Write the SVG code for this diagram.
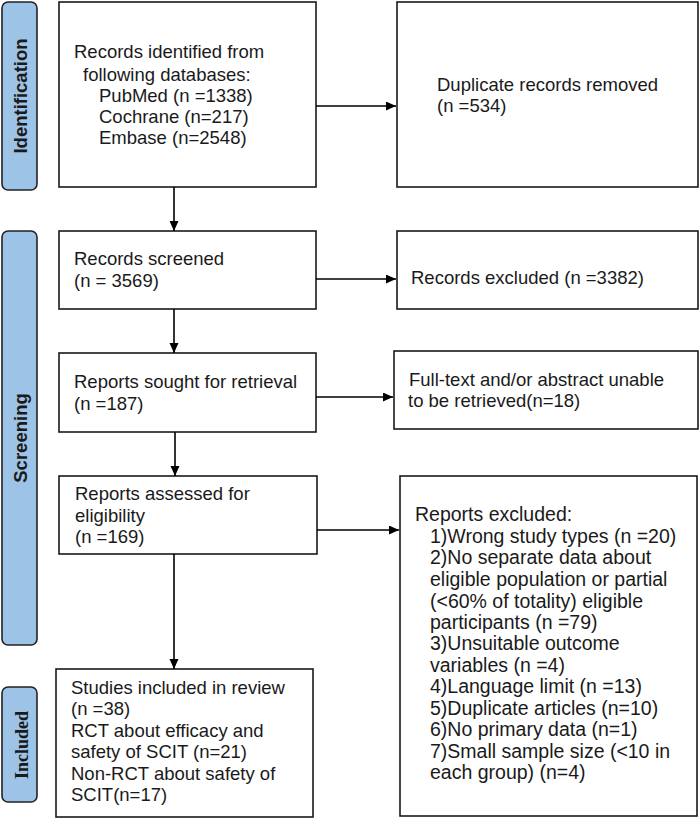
<svg xmlns="http://www.w3.org/2000/svg" width="700" height="819" viewBox="0 0 700 819">
<style>
.bg{fill:#ffffff}
.box{fill:#ffffff;stroke:#1a1a1a;stroke-width:1.6}
.side{fill:#9dc3e6;stroke:#222222;stroke-width:1.6}
.t{font-family:"Liberation Sans",Arial,sans-serif;font-size:18.5px;fill:#1a1a1a}
.tl{font-size:19.5px}
.st{font-family:"Liberation Sans",Arial,sans-serif;font-size:18.5px;font-weight:bold;fill:#1a1a1a}
.sts{font-family:"Liberation Serif","Times New Roman",serif;font-size:18px;font-weight:bold;fill:#1a1a1a}
.c{stroke:#000000;stroke-width:1.6;fill:none;marker-end:url(#ah)}
</style>
<defs>
<marker id="ah" markerUnits="userSpaceOnUse" markerWidth="10" markerHeight="10" refX="10" refY="4.5" orient="auto">
<path d="M0,0 L10,4.5 L0,9 Z" fill="#000000"/>
</marker>
</defs>
<rect class="bg" x="0" y="0" width="700" height="819"/>

<g id="side-identification">
<rect class="side" x="2" y="2" width="35" height="188" rx="6"/>
<text class="st" transform="translate(27,96) rotate(-90)" text-anchor="middle">Identification</text>
</g>
<g id="side-screening">
<rect class="side" x="2" y="231" width="35" height="414" rx="6"/>
<text class="st" transform="translate(27,438) rotate(-90)" text-anchor="middle">Screening</text>
</g>
<g id="side-included">
<rect class="side" x="2" y="687" width="35" height="115" rx="6"/>
<text class="sts" transform="translate(28,745) rotate(-90)" text-anchor="middle">Included</text>
</g>

<g id="identified">
<rect class="box" x="59" y="2" width="257" height="185"/>
<text class="t"><tspan x="74" y="58">Records identified from</tspan><tspan x="83" y="81">following databases:</tspan><tspan x="99" y="102">PubMed (n =1338)</tspan><tspan x="99" y="123">Cochrane (n=217)</tspan><tspan x="99" y="144">Embase (n=2548)</tspan></text>
</g>
<g id="duplicates">
<rect class="box" x="397" y="2" width="301" height="185"/>
<text class="t"><tspan x="437" y="91">Duplicate records removed</tspan><tspan x="437" y="112">(n =534)</tspan></text>
</g>
<g id="screened">
<rect class="box" x="59" y="231" width="257" height="78"/>
<text class="t"><tspan x="74" y="265">Records screened</tspan><tspan x="74" y="287">(n = 3569)</tspan></text>
</g>
<g id="records-excluded">
<rect class="box" x="397" y="231" width="301" height="78"/>
<text class="t" x="411" y="284">Records excluded (n =3382)</text>
</g>
<g id="sought">
<rect class="box" x="59" y="353" width="257" height="79"/>
<text class="t"><tspan x="74" y="388">Reports sought for retrieval</tspan><tspan x="74" y="410">(n =187)</tspan></text>
</g>
<g id="not-retrieved">
<rect class="box" x="394" y="351" width="304" height="78"/>
<text class="t"><tspan x="409" y="386">Full-text and/or abstract unable</tspan><tspan x="408" y="407">to be retrieved(n=18)</tspan></text>
</g>
<g id="assessed">
<rect class="box" x="59" y="476" width="258" height="78"/>
<text class="t"><tspan x="75" y="500">Reports assessed for</tspan><tspan x="75" y="522">eligibility</tspan><tspan x="75" y="543">(n =169)</tspan></text>
</g>
<g id="reports-excluded">
<rect class="box" x="400" y="476" width="297" height="340"/>
<text class="t tl"><tspan x="415" y="521">Reports excluded:</tspan><tspan x="430" y="543">1)Wrong study types (n =20)</tspan><tspan x="430" y="564">2)No separate data about</tspan><tspan x="430" y="586">eligible population or partial</tspan><tspan x="430" y="608">(&lt;60% of totality) eligible</tspan><tspan x="430" y="629">participants (n =79)</tspan><tspan x="430" y="650">3)Unsuitable outcome</tspan><tspan x="430" y="672">variables (n =4)</tspan><tspan x="430" y="693">4)Language limit (n =13)</tspan><tspan x="430" y="715">5)Duplicate articles (n=10)</tspan><tspan x="430" y="736">6)No primary data (n=1)</tspan><tspan x="430" y="758">7)Small sample size (&lt;10 in</tspan><tspan x="430" y="779">each group) (n=4)</tspan></text>
</g>
<g id="included">
<rect class="box" x="56" y="669" width="257" height="148"/>
<text class="t"><tspan x="71" y="694">Studies included in review</tspan><tspan x="71" y="715">(n =38)</tspan><tspan x="71" y="737">RCT about efficacy and</tspan><tspan x="71" y="758">safety of SCIT (n=21)</tspan><tspan x="71" y="780">Non-RCT about safety of</tspan><tspan x="71" y="801">SCIT(n=17)</tspan></text>
</g>

<g id="connectors">
<line class="c" x1="316" y1="106" x2="396" y2="106"/>
<line class="c" x1="174" y1="187" x2="174" y2="231"/>
<line class="c" x1="316" y1="279" x2="396" y2="279"/>
<line class="c" x1="174" y1="309" x2="174" y2="353"/>
<line class="c" x1="316" y1="397" x2="393" y2="397"/>
<line class="c" x1="175" y1="432" x2="175" y2="476"/>
<line class="c" x1="317" y1="530" x2="399" y2="530"/>
<line class="c" x1="174" y1="554" x2="174" y2="669"/>
</g>
</svg>
